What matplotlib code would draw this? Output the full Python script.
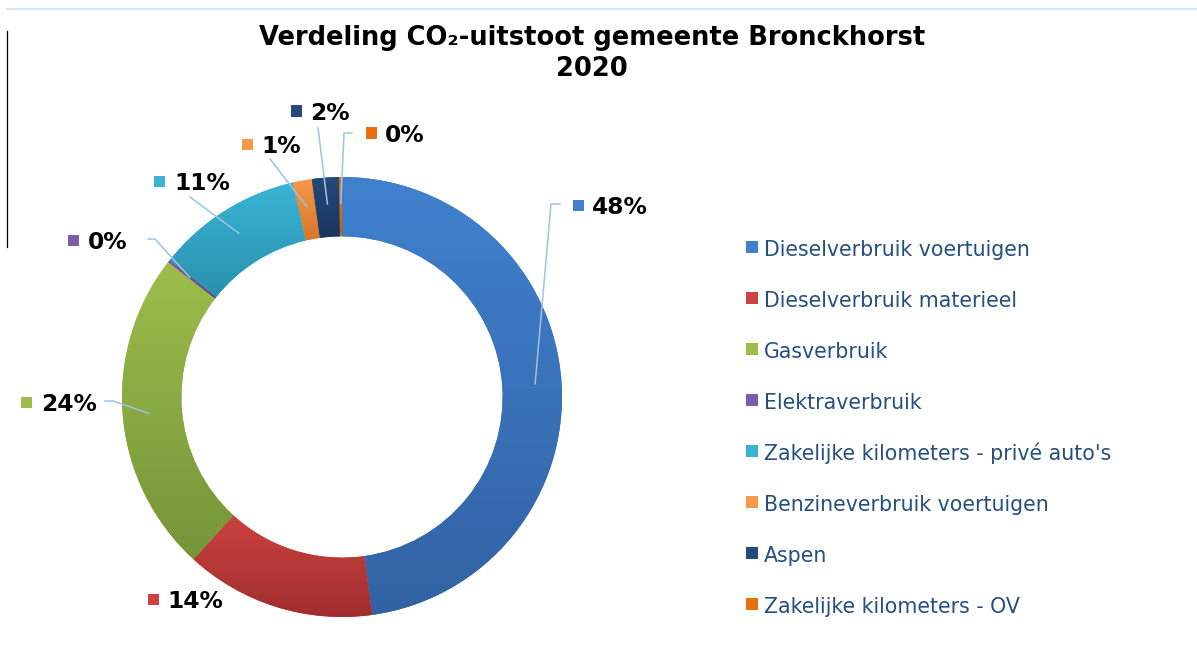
import numpy as np
import matplotlib
matplotlib.use("Agg")
import matplotlib.pyplot as plt
from matplotlib.colors import LinearSegmentedColormap
from matplotlib.patches import Rectangle
from matplotlib.lines import Line2D

# ---- data ----
categories = ["Dieselverbruik voertuigen", "Dieselverbruik materieel", "Gasverbruik",
              "Elektraverbruik", "Zakelijke kilometers - privé auto's",
              "Benzineverbruik voertuigen", "Aspen", "Zakelijke kilometers - OV"]
shares = [47.8, 14.0, 23.7, 0.2, 10.7, 1.4, 2.0, 0.2]
pct_labels = ["48%", "14%", "24%", "0%", "11%", "1%", "2%", "0%"]
title_text = "Verdeling CO\u2082-uitstoot gemeente Bronckhorst\n2020"

# ---- styles ----
top_colors = ["#4081CE", "#CB4240", "#9DBD4B", "#7E5CA8", "#3AB4D5", "#F89848", "#26497B", "#E86F0C"]
bot_colors = ["#3262A3", "#A02E2E", "#75953A", "#5E4487", "#2A91AD", "#D5762A", "#18365E", "#D0620A"]

W, H = 1197, 662
CX, CY, R = 342, 397, 220
fig = plt.figure(figsize=(W / 100, H / 100), dpi=100)
ax = fig.add_axes([0, 0, 1, 1])

def px(x, y):
    return ((x - CX) / R, (CY - y) / R)

wedges, _ = ax.pie(shares, radius=1, startangle=90, counterclock=False,
                   wedgeprops=dict(width=0.27, linewidth=0), center=(0, 0), frame=False)
ax.set_aspect("auto")

# gradients clipped to wedges
for w, ct, cb in zip(wedges, top_colors, bot_colors):
    ext = w.get_path().get_extents()
    cmap = LinearSegmentedColormap.from_list("g", [cb, ct])
    grad = np.linspace(0, 1, 256).reshape(-1, 1)
    im = ax.imshow(grad, extent=[ext.x0, ext.x1, ext.y0, ext.y1], origin="lower",
                   cmap=cmap, aspect="auto", zorder=2, interpolation="bilinear")
    im.set_clip_path(w)
    w.set_facecolor(ct)
ax.set_xlim(-CX / R, (W - CX) / R)
ax.set_ylim(-(H - CY) / R, CY / R)
ax.axis("off")

# ---- data labels ----
label_pos = [(578, 205), (153, 599), (27, 402), (74, 240), (160, 181), (247, 144), (296, 111), (371, 133)]
elbows = [[(551, 204), (560, 204)], None, [(113, 401), (105, 401)], [(155, 239), (148, 239)],
          [(190, 197)], [(270, 159)], [(318, 128)], [(344, 133), (352, 133)]]
lead_color = "#9DC3E6"
for w, lab, pos, elb, ct in zip(wedges, pct_labels, label_pos, elbows, top_colors):
    mid = np.deg2rad((w.theta1 + w.theta2) / 2)
    if elb is not None:
        pts = [(0.88 * np.cos(mid), 0.88 * np.sin(mid))] + [px(*p) for p in elb]
        xs, ys = zip(*pts)
        ax.add_line(Line2D(xs, ys, color=lead_color, lw=1.1, zorder=3))
    sx, sy = pos
    ax.add_patch(Rectangle(px(sx - 5.5, sy + 5.5), 11 / R, 11 / R, facecolor=ct,
                           edgecolor="none", zorder=4))
    ax.text(*px(sx + 14, sy + 9), lab, fontsize=16.8, fontweight="bold",
            family="DejaVu Sans", color="black", ha="left", va="baseline", zorder=4)

# ---- legend ----
leg_x, leg_y0, leg_dy = 746, 241, 51
for i, (cat, ct) in enumerate(zip(categories, top_colors)):
    y = leg_y0 + i * leg_dy
    ax.add_patch(Rectangle(px(leg_x, y + 12), 12 / R, 12 / R, facecolor=ct,
                           edgecolor="none", zorder=4))
    ax.text(*px(764, y + 15), cat, fontsize=14.8, family="DejaVu Sans",
            color="#264F80", ha="left", va="baseline")

# ---- title ----
t1, t2 = title_text.split("\n")
ax.text(*px(592, 45), t1, fontsize=18.5, fontweight="bold",
        family="DejaVu Sans", ha="center", va="baseline")
ax.text(*px(592, 76), t2, fontsize=18.5, fontweight="bold",
        family="DejaVu Sans", ha="center", va="baseline")

# frame artifacts
fig.add_artist(Line2D([7 / W, 1], [1 - 9 / H, 1 - 9 / H], transform=fig.transFigure,
                      color="#DCE6F0", lw=1.6))
fig.add_artist(Line2D([7 / W, 7 / W], [1 - 31 / H, 1 - 247 / H], transform=fig.transFigure,
                      color="black", lw=0.9))

fig.savefig("out.png", dpi=100)
